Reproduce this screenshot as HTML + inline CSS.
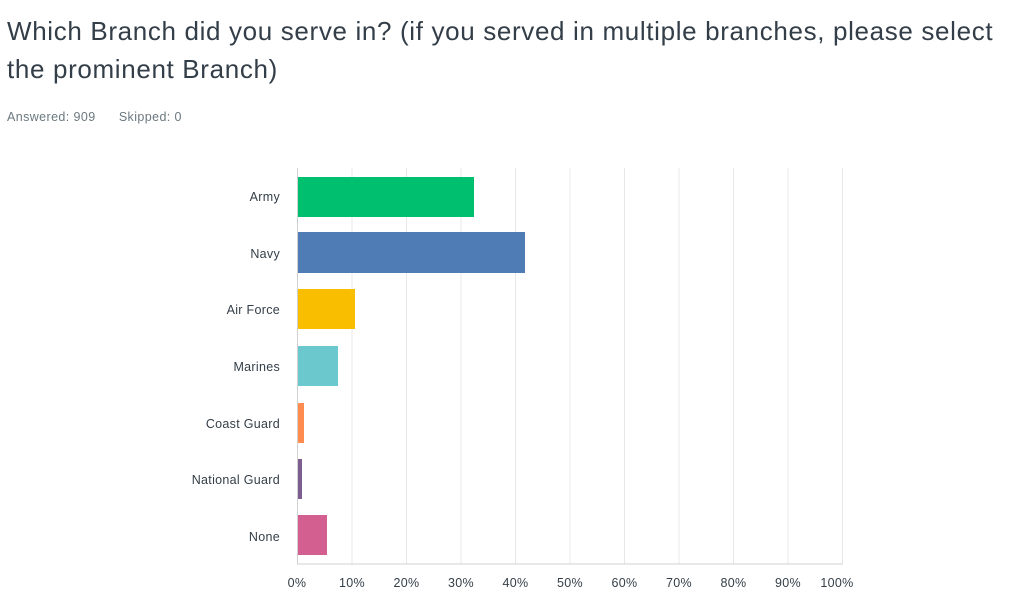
<!DOCTYPE html>
<html><head><style>
body{margin:0;background:#fff;width:1024px;height:604px;overflow:hidden;font-family:"Liberation Sans",sans-serif;}
.t{position:absolute;left:7px;top:12px;font-size:26px;letter-spacing:0.65px;color:#333e48;line-height:38px;width:1012px;}
.m{position:absolute;left:7px;top:110px;font-size:12.5px;letter-spacing:0.4px;color:#6b787f;}
</style></head><body>
<div class="t">Which Branch did you serve in? (if you served in multiple branches, please select the prominent Branch)</div>
<div class="m">Answered: 909&nbsp;&nbsp;&nbsp;&nbsp;&nbsp;&nbsp;Skipped: 0</div>
<svg style="position:absolute;left:0;top:0" width="1024" height="604" font-family="Liberation Sans, sans-serif" font-size="12.5" letter-spacing="0.3" fill="#333e48">
<g stroke="#e8e8e8" stroke-width="1">
<line x1="352" y1="168" x2="352" y2="564"/><line x1="406.5" y1="168" x2="406.5" y2="564"/><line x1="461" y1="168" x2="461" y2="564"/><line x1="515.5" y1="168" x2="515.5" y2="564"/><line x1="570" y1="168" x2="570" y2="564"/><line x1="624.5" y1="168" x2="624.5" y2="564"/><line x1="679" y1="168" x2="679" y2="564"/><line x1="733.5" y1="168" x2="733.5" y2="564"/><line x1="788" y1="168" x2="788" y2="564"/><line x1="842.5" y1="168" x2="842.5" y2="564"/>
</g>
<line x1="297.5" y1="168" x2="297.5" y2="564" stroke="#d0d0d0"/>
<line x1="297" y1="564" x2="843" y2="564" stroke="#d0d0d0"/>
<rect x="298" y="177" width="176" height="40" fill="#00bf6f"/>
<rect x="298" y="232" width="227" height="41" fill="#507cb6"/>
<rect x="298" y="289" width="57" height="40" fill="#f9be00"/>
<rect x="298" y="346" width="40" height="40" fill="#6bc8cd"/>
<rect x="298" y="403" width="6" height="40" fill="#ff8b4f"/>
<rect x="298" y="459" width="4" height="40" fill="#7d5e90"/>
<rect x="298" y="515" width="29" height="40" fill="#d25f90"/>
<g text-anchor="end">
<text x="280" y="201">Army</text><text x="280" y="258">Navy</text><text x="280" y="314">Air Force</text><text x="280" y="371">Marines</text><text x="280" y="428">Coast Guard</text><text x="280" y="484">National Guard</text><text x="280" y="541">None</text>
</g>
<g text-anchor="middle">
<text x="297" y="587">0%</text><text x="352" y="587">10%</text><text x="406.5" y="587">20%</text><text x="461" y="587">30%</text><text x="515.5" y="587">40%</text><text x="570" y="587">50%</text><text x="624.5" y="587">60%</text><text x="679" y="587">70%</text><text x="733.5" y="587">80%</text><text x="788" y="587">90%</text><text x="837" y="587">100%</text>
</g>
</svg>
</body></html>
